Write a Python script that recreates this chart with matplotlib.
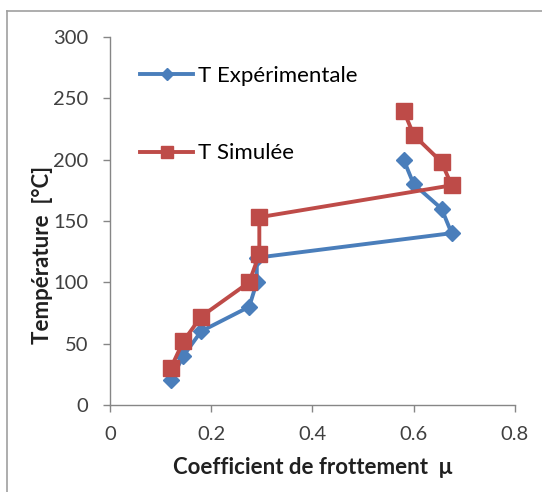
import matplotlib
matplotlib.use('Agg')
import matplotlib.pyplot as plt
from matplotlib.lines import Line2D

plt.rcParams['font.family'] = ['Lato', 'DejaVu Sans']

# T experimentale
mu_exp = [0.12, 0.145, 0.18, 0.275, 0.29, 0.29, 0.675, 0.655, 0.60, 0.58]
t_exp = [20, 40, 60, 80, 100, 120, 140, 160, 180, 200]
# T simulee
mu_sim = [0.12, 0.145, 0.18, 0.275, 0.295, 0.295, 0.675, 0.655, 0.60, 0.58]
t_sim = [30, 52, 72, 100, 123, 153, 179, 198, 220, 240]

xticks = [0, 0.2, 0.4, 0.6, 0.8]
xticklabels = ['0', '0.2', '0.4', '0.6', '0.8']
yticks = [0, 50, 100, 150, 200, 250, 300]

fig = plt.figure(figsize=(5.42, 4.92), dpi=100)
ax = fig.add_axes([0.203, 0.177, 0.747, 0.748])

blue = '#4a7ebb'
red = '#be4b48'
ax.plot(mu_exp, t_exp, '-D', color=blue, lw=2.8, markersize=8,
        label='T Expérimentale')
ax.plot(mu_sim, t_sim, '-s', color=red, lw=2.8, markersize=11.5,
        label='T Simulée')

ax.set_xlim(0, 0.8)
ax.set_ylim(0, 300)
ax.set_xticks(xticks)
ax.set_xticklabels(xticklabels)
ax.set_yticks(yticks)
for s in ['top', 'right']:
    ax.spines[s].set_visible(False)
for s in ['left', 'bottom']:
    ax.spines[s].set_color('#868686')
    ax.spines[s].set_linewidth(1.0)
ax.tick_params(colors='#868686', labelcolor='#404040', labelsize=14.5,
               length=5, width=1.0)
ax.tick_params(axis='y', pad=10.5)
ax.tick_params(axis='x', pad=10.5)

ax.set_xlabel('Coefficient de frottement  μ', fontsize=16, fontweight='bold',
              color='#202020', va='center')
ax.xaxis.set_label_coords(0.501, -0.171)
ax.set_ylabel('Température  [°C]', fontsize=16, fontweight='bold',
              color='#202020', va='center')
ax.yaxis.set_label_coords(-0.168, 0.408)

ax.legend(loc='upper left', bbox_to_anchor=(0.074, 0.922), frameon=False,
          fontsize=16, labelspacing=2.6, handlelength=2.4, handletextpad=0.2,
          borderpad=0, borderaxespad=0, markerscale=0.75)

# outer frame of the chart area (only top and left edges visible)
fig.add_artist(Line2D([7 / 542, 1], [1 - 11 / 492, 1 - 11 / 492],
                      transform=fig.transFigure, color='#a0a0a0', lw=1.2))
fig.add_artist(Line2D([7 / 542, 7 / 542], [0, 1 - 11 / 492],
                      transform=fig.transFigure, color='#a0a0a0', lw=1.2))

fig.savefig('out.png', dpi=100)
